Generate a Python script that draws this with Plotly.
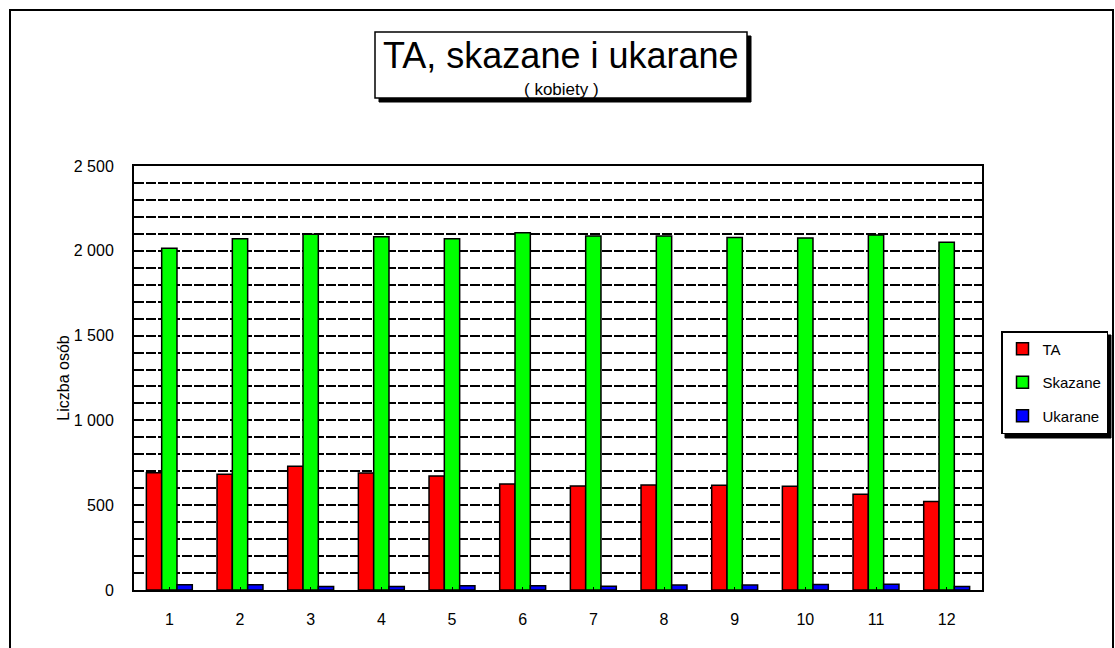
import plotly.graph_objects as go

months = [str(i) for i in range(1, 13)]
ta = [692, 682, 729, 690, 672, 625, 613, 619, 617, 612, 564, 522]
skazane = [2015, 2071, 2098, 2083, 2071, 2106, 2088, 2088, 2079, 2076, 2093, 2051]
ukarane = [31, 31, 21, 20, 25, 25, 22, 29, 29, 33, 34, 21]

series_names = ["TA", "Skazane", "Ukarane"]
series_colors = ["#FF0000", "#00FF00", "#0000FF"]

W, H = 1115, 648
L, R, T, B = 134, 982, 166, 590
FONT = "Arial, Liberation Sans, sans-serif"


def px(x):
    return (x - L) / (R - L)


def py(y):
    return (B - y) / (B - T)


fig = go.Figure()
for i, (name, vals) in enumerate(zip(series_names, [ta, skazane, ukarane])):
    fig.add_trace(go.Bar(
        x=months, y=vals, name=name, legendgroup=name,
        marker=dict(color=series_colors[i], line=dict(color="black", width=1.5)),
    ))

shapes = []
# outer frame
shapes.append(dict(type="rect", xref="paper", yref="paper",
                   x0=px(10), x1=px(1113), y0=py(10), y1=py(720),
                   line=dict(color="black", width=2), fillcolor="rgba(0,0,0,0)", layer="below"))
# title box shadow + box
shapes.append(dict(type="rect", xref="paper", yref="paper",
                   x0=px(379), x1=px(751), y0=py(36), y1=py(102),
                   line=dict(color="black", width=1), fillcolor="black", layer="above"))
shapes.append(dict(type="rect", xref="paper", yref="paper",
                   x0=px(375), x1=px(747), y0=py(32), y1=py(98),
                   line=dict(color="black", width=1.5), fillcolor="white", layer="above"))
# legend shadow
shapes.append(dict(type="rect", xref="paper", yref="paper",
                   x0=px(1005), x1=px(1111), y0=py(335), y1=py(438),
                   line=dict(color="black", width=1), fillcolor="black", layer="above"))

annotations = [
    dict(text="TA, skazane i ukarane", xref="paper", yref="paper",
         x=px(561), y=py(56), xanchor="center", yanchor="middle", showarrow=False,
         font=dict(family=FONT, size=36, color="black")),
    dict(text="( kobiety )", xref="paper", yref="paper",
         x=px(561), y=py(90), xanchor="center", yanchor="middle", showarrow=False,
         font=dict(family=FONT, size=17, color="black")),
]

fig.update_layout(
    width=W, height=H,
    margin=dict(l=L, r=W - R, t=T, b=H - B, pad=0, autoexpand=False),
    paper_bgcolor="white", plot_bgcolor="white",
    font=dict(family=FONT, size=16, color="black"),
    barmode="group", bargap=0.35, bargroupgap=0,
    separators=", ",
    showlegend=True,
    legend=dict(xref="container", yref="container",
                x=1001 / W, y=1 - 331 / H, xanchor="left", yanchor="top",
                bgcolor="white", bordercolor="black", borderwidth=1.5,
                font=dict(family=FONT, size=15, color="black"),
                tracegroupgap=11, itemwidth=30),
    shapes=shapes, annotations=annotations,
)

fig.update_xaxes(
    type="category", showline=True, mirror=True, linecolor="black", linewidth=2,
    ticks="inside", ticklen=3, tickcolor="black", showgrid=False,
    ticklabelstandoff=14, tickfont=dict(size=16),
)
fig.update_yaxes(
    range=[0, 2500], dtick=500, tickformat=",d",
    showline=True, mirror=True, linecolor="black", linewidth=2,
    showgrid=True, gridcolor="black", gridwidth=1.5, griddash="10px,2px",
    minor=dict(dtick=100, showgrid=True, gridcolor="black", gridwidth=1.5, griddash="10px,2px"),
    ticks="", ticklabelstandoff=15, tickfont=dict(size=16),
    title=dict(text="Liczba osób", font=dict(size=16), standoff=0),
    zeroline=False,
)

fig.write_html("out.html", config={"displayModeBar": False},
               post_script="document.body.style.margin='0px';document.body.style.overflow='hidden';")
